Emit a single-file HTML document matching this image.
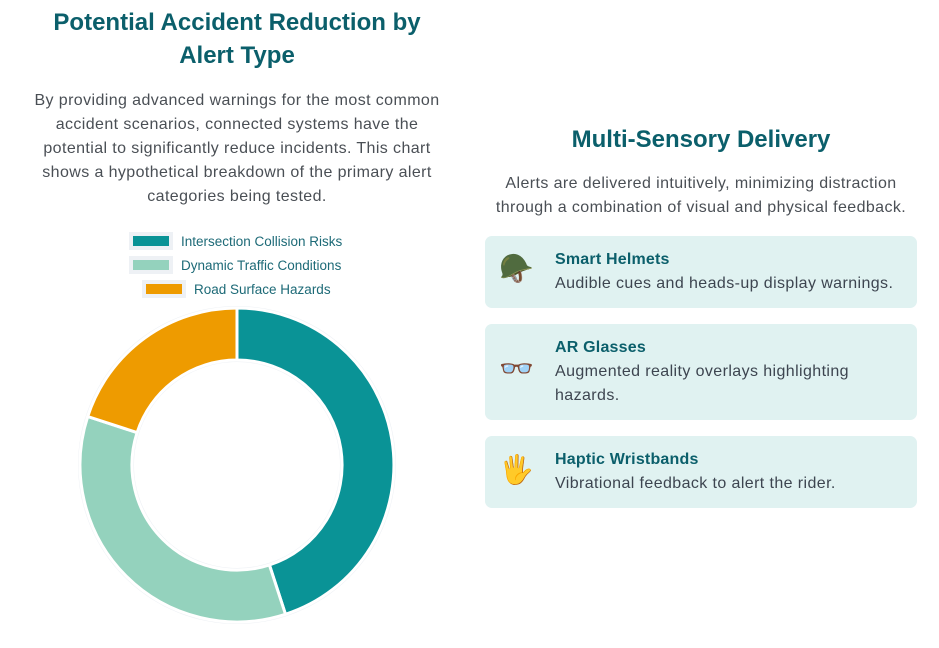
<!DOCTYPE html>
<html><head><meta charset="utf-8"><style>
body{margin:0;width:939px;height:648px;background:#fff;font-family:"Liberation Sans",sans-serif;position:relative;overflow:hidden}
.a{position:absolute;text-align:center}
h1,h2{margin:0;color:#0b5f6b;font-weight:bold}
.p{color:#4a4f55;font-size:16px;line-height:24px;letter-spacing:0.4px}
.leg{position:absolute;font-size:13.5px;color:#1d6a77;display:flex;align-items:center}
.sw{width:36px;height:10px;border:4px solid #eef1f5;margin-right:8px}
.card{position:absolute;left:485px;width:432px;background:#e0f2f1;border-radius:7px}
.ic{position:absolute;left:14px;font-size:28px}
.t{position:absolute;left:70px;font-size:16px;color:#3d4550;line-height:24px;letter-spacing:0.4px}
.t b{color:#0b5f6b;display:block;letter-spacing:0.2px}
</style></head><body>
<div class="a" style="left:17px;width:440px;top:6px"><h1 style="font-size:24px;line-height:33px">Potential Accident Reduction by<br>Alert Type</h1></div>
<div class="a p" style="left:7px;width:460px;top:89px">By providing advanced warnings for the most common<br>accident scenarios, connected systems have the<br>potential to significantly reduce incidents. This chart<br>shows a hypothetical breakdown of the primary alert<br>categories being tested.</div>
<div class="leg" style="left:129px;top:232px"><div class="sw" style="background:#0a9396"></div>Intersection Collision Risks</div>
<div class="leg" style="left:129px;top:256px"><div class="sw" style="background:#94d2bd"></div>Dynamic Traffic Conditions</div>
<div class="leg" style="left:142px;top:280px"><div class="sw" style="background:#ee9b00"></div>Road Surface Hazards</div>
<svg style="position:absolute;left:0;top:0" width="939" height="648">
<circle cx="237" cy="465" r="131" fill="none" stroke="#eef1f5" stroke-width="56"/>
<g stroke="#fff" stroke-width="3" stroke-linejoin="round">
<path d="M237 308 A157 157 0 0 1 285.5 614.3 L269.4 564.9 A105 105 0 0 0 237 360Z" fill="#0a9396"/>
<path d="M285.5 614.3 A157 157 0 0 1 87.7 416.5 L137.1 432.6 A105 105 0 0 0 269.4 564.9Z" fill="#94d2bd"/>
<path d="M87.7 416.5 A157 157 0 0 1 237 308 L237 360 A105 105 0 0 0 137.1 432.6Z" fill="#ee9b00"/>
</g></svg>
<div class="a" style="left:470px;width:462px;top:125px"><h2 style="font-size:24px;line-height:30px">Multi-Sensory Delivery</h2></div>
<div class="a p" style="left:470px;width:462px;top:172px">Alerts are delivered intuitively, minimizing distraction<br>through a combination of visual and physical feedback.</div>
<div class="card" style="top:236px;height:72px"><div class="ic" style="top:16px">🪖</div><div class="t" style="top:12px"><b>Smart Helmets</b>Audible cues and heads-up display warnings.</div></div>
<div class="card" style="top:324px;height:96px"><div class="ic" style="top:28px">👓</div><div class="t" style="top:12px"><b>AR Glasses</b>Augmented reality overlays highlighting<br>hazards.</div></div>
<div class="card" style="top:436px;height:72px"><div class="ic" style="top:17px">🖐</div><div class="t" style="top:12px"><b>Haptic Wristbands</b>Vibrational feedback to alert the rider.</div></div>
</body></html>
